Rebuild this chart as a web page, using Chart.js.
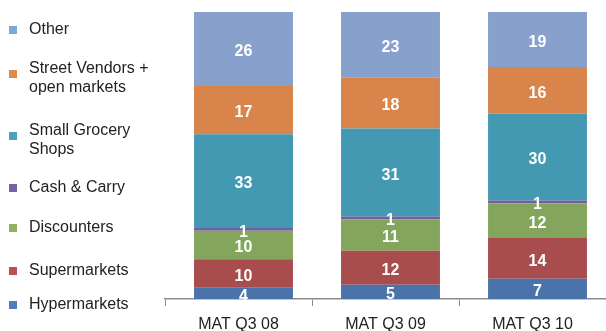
<!DOCTYPE html>
<html>
<head>
<meta charset="utf-8">
<script src="https://cdn.jsdelivr.net/npm/chart.js@4"></script>
<style>
  html, body { margin: 0; padding: 0; background: #fff; }
  #wrap { width: 606px; height: 331px; position: relative; }
</style>
</head>
<body>
<div id="wrap"><canvas id="c" width="606" height="331"></canvas></div>
<script>
// Periods (x axis)
const periods = ['MAT Q3 08', 'MAT Q3 09', 'MAT Q3 10'];

// Channel shares in % per period (bottom of the stack first)
const hypermarkets   = [4, 5, 7];
const supermarkets   = [10, 12, 14];
const discounters    = [10, 11, 12];
const cashAndCarry   = [1, 1, 1];
const smallGrocery   = [33, 31, 30];
const streetVendors  = [17, 18, 16];
const other          = [26, 23, 19];

// Series names as shown in the key (top to bottom), "\n" breaks a line
const seriesNames = [
  'Hypermarkets',
  'Supermarkets',
  'Discounters',
  'Cash & Carry',
  'Small Grocery\nShops',
  'Street Vendors +\nopen markets',
  'Other'
];
const seriesValues = [hypermarkets, supermarkets, discounters, cashAndCarry, smallGrocery, streetVendors, other];

const barColors = ['#4a73aa', '#a84c4d', '#84a65c', '#71609f', '#4399b2', '#d9844a', '#87a1cc'];
const keyColors = ['#4f7dc3', '#c0504f', '#8cb462', '#7660a6', '#4aa0bd', '#e0874a', '#83a4d6'];

// Column totals, so each column fills 100 %
const totals = periods.map((_, i) => seriesValues.reduce((s, arr) => s + arr[i], 0));

const datasets = seriesValues.map((vals, k) => ({
  label: seriesNames[k].replace('\n', ' '),
  data: vals.map((v, i) => v / totals[i] * 100),
  raw: vals,
  backgroundColor: barColors[k],
  borderWidth: 0,
  barPercentage: 0.673,
  categoryPercentage: 1
}));

const FONT = '"Liberation Sans", Arial, Helvetica, sans-serif';

// Columns sit a little right of the middle of their tick interval
const BAR_SHIFT = 5;

// Shifts the columns and writes white value labels centred in each segment
const columns = {
  id: 'columns',
  beforeDatasetsDraw(chart) {
    chart.ctx.save();
    chart.ctx.translate(BAR_SHIFT, 0);
  },
  afterDatasetsDraw(chart) {
    const ctx = chart.ctx;
    ctx.font = 'bold 16px ' + FONT;
    ctx.fillStyle = '#ffffff';
    ctx.textAlign = 'center';
    ctx.textBaseline = 'middle';
    chart.data.datasets.forEach((ds, di) => {
      const meta = chart.getDatasetMeta(di);
      meta.data.forEach((bar, i) => {
        const cy = (bar.y + bar.base) / 2;
        ctx.fillText(String(ds.raw[i]), bar.x, cy + 3);
      });
    });
    ctx.restore();
  }
};

// Key on the left, listed from the top stack segment down
const keyRows = [30, 74, 136, 188, 228, 271, 305];
const sideKey = {
  id: 'sideKey',
  afterDraw(chart) {
    const ctx = chart.ctx;
    ctx.save();
    ctx.font = '16px ' + FONT;
    ctx.textAlign = 'left';
    ctx.textBaseline = 'middle';
    const order = seriesNames.map((_, k) => k).reverse();
    order.forEach((k, row) => {
      const cy = keyRows[row];
      ctx.fillStyle = keyColors[k];
      ctx.fillRect(9, cy - 4, 8, 8);
      ctx.fillStyle = '#222222';
      const lines = seriesNames[k].split('\n');
      if (lines.length === 1) {
        ctx.fillText(lines[0], 29, cy);
      } else {
        ctx.fillText(lines[0], 29, cy - 5);
        ctx.fillText(lines[1], 29, cy + 13.5);
      }
    });
    ctx.restore();
  }
};

new Chart(document.getElementById('c'), {
  type: 'bar',
  data: { labels: periods, datasets },
  options: {
    responsive: false,
    animation: false,
    devicePixelRatio: 1,
    layout: { padding: { left: 165, top: 12, right: -2, bottom: 0 } },
    plugins: { legend: { display: false }, tooltip: { enabled: false } },
    scales: {
      x: {
        stacked: true,
        offset: true,
        grid: {
          offset: true,
          drawOnChartArea: false,
          drawTicks: true,
          tickLength: 7,
          color: '#8c8c8c',
          lineWidth: 1
        },
        border: { display: true, color: '#8c8c8c', width: 1.5 },
        ticks: {
          color: '#222222',
          font: { family: FONT, size: 16 },
          padding: 9,
          maxRotation: 0
        },
        afterFit(scale) { scale.height = 32; }
      },
      y: {
        stacked: true,
        display: false,
        min: 0,
        max: 100
      }
    }
  },
  plugins: [columns, sideKey]
});
</script>
</body>
</html>
